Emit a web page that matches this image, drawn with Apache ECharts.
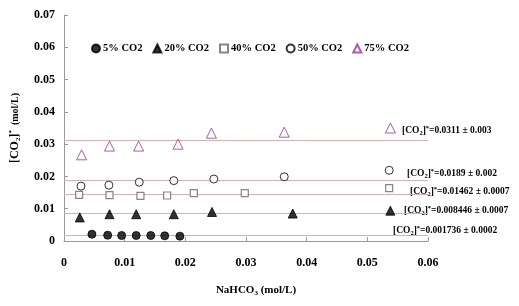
<!DOCTYPE html>
<html>
<head>
<meta charset="utf-8">
<script src="https://cdn.jsdelivr.net/npm/echarts@6/dist/echarts.min.js"></script>
<style>html,body{margin:0;padding:0;background:#fff}#c{width:519px;height:306px}</style>
</head>
<body>
<div id="c"></div>
<script>
const seriesNames = ['5% CO2', '20% CO2', '40% CO2', '50% CO2', '75% CO2'];
const x5  = [0.0046, 0.0072, 0.0095, 0.0119, 0.0143, 0.0166, 0.0191];
const y5  = [0.0021, 0.0018, 0.0017, 0.0017, 0.0017, 0.0016, 0.0015];
const x20 = [0.0026, 0.0075, 0.0119, 0.0181, 0.0244, 0.0377, 0.0538];
const y20 = [0.0073, 0.0083, 0.0083, 0.0083, 0.0090, 0.0085, 0.0094];
const x40 = [0.0025, 0.0075, 0.0126, 0.0170, 0.0214, 0.0298, 0.0536];
const y40 = [0.0143, 0.0142, 0.0140, 0.0141, 0.0148, 0.0148, 0.0164];
const x50 = [0.0028, 0.0074, 0.0124, 0.0181, 0.0247, 0.0363, 0.0536];
const y50 = [0.0170, 0.0173, 0.0182, 0.0187, 0.0192, 0.0199, 0.0219];
const x75 = [0.0029, 0.0075, 0.0123, 0.0188, 0.0243, 0.0363, 0.0538];
const y75 = [0.0267, 0.0294, 0.0294, 0.0300, 0.0334, 0.0337, 0.0350];
const means = [0.001736, 0.008446, 0.01462, 0.0189, 0.0311];
const errs  = ['0.0002', '0.0007', '0.0007', '0.002', '0.003'];
const meanLabels = ['0.001736', '0.008446', '0.01462', '0.0189', '0.0311'];
const yTicks = ['0', '0.01', '0.02', '0.03', '0.04', '0.05', '0.06', '0.07'];
const xTicks = ['0', '0.01', '0.02', '0.03', '0.04', '0.05', '0.06'];

const FONT = "'Liberation Serif', 'Times New Roman', serif";
const xs = [x5, x20, x40, x50, x75];
const ys = [y5, y20, y40, y50, y75];
const styles = [
  {symbol: 'circle', size: 8, item: {color: '#000', borderColor: '#000', borderWidth: 1}},
  {symbol: 'triangle', size: 9, item: {color: '#000', borderColor: '#000', borderWidth: 1}},
  {symbol: 'rect', size: 7, item: {color: '#fff', borderColor: '#666', borderWidth: 1.2}},
  {symbol: 'circle', size: 8, item: {color: '#fff', borderColor: '#000', borderWidth: 1}},
  {symbol: 'triangle', size: 10, item: {color: '#fff', borderColor: '#993399', borderWidth: 1}}
];

const series = seriesNames.map((n, i) => ({
  name: n,
  type: 'scatter',
  symbol: styles[i].symbol,
  symbolSize: styles[i].size,
  itemStyle: styles[i].item,
  data: xs[i].map((x, j) => [x, ys[i][j]]),
  z: 5,
  markLine: {
    silent: true,
    symbol: 'none',
    precision: 6,
    label: {show: false},
    lineStyle: {color: '#d8b0b0', type: 'solid', width: 1},
    data: [{yAxis: means[i]}],
    z: 1
  }
}));

const chart = echarts.init(document.getElementById('c'));
const richBase = {
  t: {fontFamily: FONT, fontWeight: 'bold', fontSize: 9.5, color: '#000', lineHeight: 12, verticalAlign: 'middle'},
  sub: {fontFamily: FONT, fontWeight: 'bold', fontSize: 6.5, color: '#000', lineHeight: 12, verticalAlign: 'bottom'},
  sup: {fontFamily: FONT, fontWeight: 'bold', fontSize: 6.5, color: '#000', lineHeight: 12, verticalAlign: 'top'}
};
const annPos = [[393, 231], [404, 211], [410, 192], [407, 174], [402, 131]];
const graphics = means.map((m, i) => ({
  type: 'text',
  left: annPos[i][0],
  top: annPos[i][1] - 6,
  style: {
    text: '{t|[CO}{sub|2}{t|]}{sup|*}{t|=' + meanLabels[i] + ' ± ' + errs[i] + '}',
    rich: richBase
  }
}));

chart.setOption({
  animation: false,
  backgroundColor: '#fff',
  grid: {left: 61, right: 91, top: 15, bottom: 65, containLabel: false},
  legend: {
    data: seriesNames,
    top: 38,
    left: 86,
    itemWidth: 8,
    itemHeight: 8,
    itemGap: 10,
    textStyle: {fontFamily: FONT, fontWeight: 'bold', fontSize: 10.5, color: '#000', padding: [0, 0, 0, -2]}
  },
  xAxis: {
    type: 'value', min: 0, max: 0.06, interval: 0.01,
    name: '{a|NaHCO}{s|3}{a| (mol/L)}',
    nameLocation: 'middle', nameGap: 42,
    nameTextStyle: {
      padding: [0, 0, 0, 20],
      rich: {
        a: {fontFamily: FONT, fontWeight: 'bold', fontSize: 11, color: '#000', lineHeight: 14, verticalAlign: 'middle'},
        s: {fontFamily: FONT, fontWeight: 'bold', fontSize: 7, color: '#000', lineHeight: 14, verticalAlign: 'bottom'}
      }
    },
    axisLine: {show: true, lineStyle: {color: '#999', width: 1}},
    axisTick: {show: true, inside: true, length: 4, lineStyle: {color: '#999'}},
    splitLine: {show: false},
    axisLabel: {
      margin: 16, fontFamily: FONT, fontWeight: 'bold', fontSize: 12, color: '#000',
      formatter: v => xTicks[Math.round(v / 0.01)]
    }
  },
  yAxis: {
    type: 'value', min: 0, max: 0.07, interval: 0.01,
    name: '{a|[CO}{s|2}{a|]}{p|*}{b|  (mol/L)}',
    nameLocation: 'middle', nameGap: 42, nameRotate: 90,
    nameTextStyle: {
      rich: {
        a: {fontFamily: FONT, fontWeight: 'bold', fontSize: 12, color: '#000', lineHeight: 14, verticalAlign: 'middle'},
        s: {fontFamily: FONT, fontWeight: 'bold', fontSize: 7, color: '#000', lineHeight: 14, verticalAlign: 'bottom'},
        p: {fontFamily: FONT, fontWeight: 'bold', fontSize: 7, color: '#000', lineHeight: 14, verticalAlign: 'top'},
        b: {fontFamily: FONT, fontWeight: 'bold', fontSize: 10, color: '#000', lineHeight: 14, verticalAlign: 'middle'}
      }
    },
    axisLine: {show: true, lineStyle: {color: '#999', width: 1}},
    axisTick: {show: true, inside: true, length: 4, lineStyle: {color: '#999'}},
    splitLine: {show: false},
    axisLabel: {
      margin: 9, fontFamily: FONT, fontWeight: 'bold', fontSize: 12, color: '#000',
      formatter: v => yTicks[Math.round(v / 0.01)]
    }
  },
  graphic: graphics,
  series: series
});
</script>
</body>
</html>
